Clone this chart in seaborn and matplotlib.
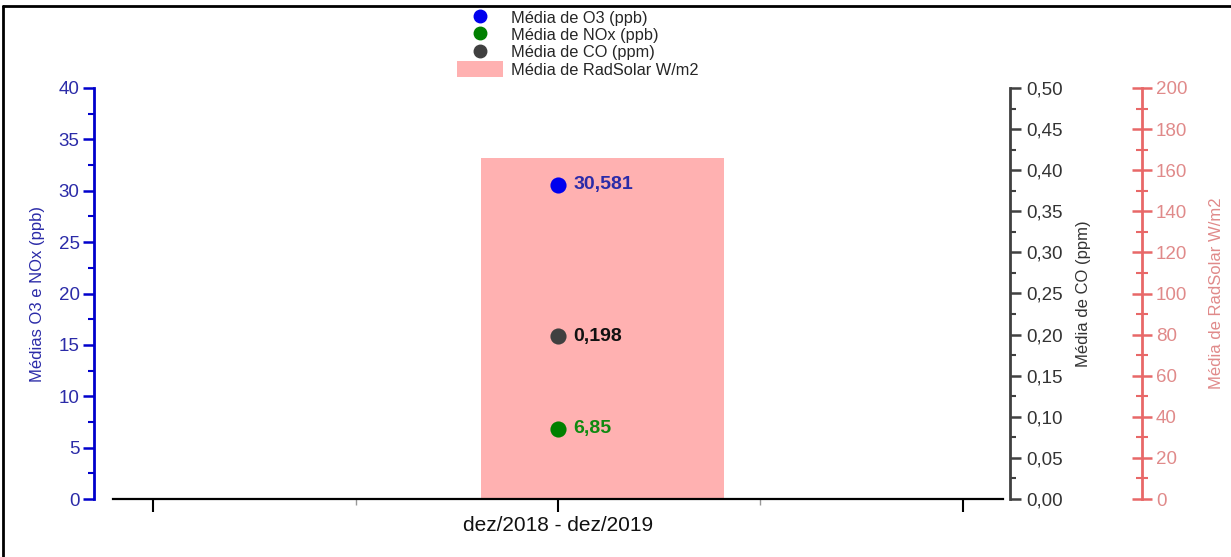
import numpy as np
import matplotlib
matplotlib.use("Agg")
import matplotlib.pyplot as plt
from matplotlib.ticker import MultipleLocator, FuncFormatter
from matplotlib.lines import Line2D
from matplotlib.patches import Patch
import seaborn as sns

# ---- data ----
categories = ["dez/2018 - dez/2019"]
o3_mean = [30.581]
nox_mean = [6.85]
co_mean = [0.198]
radsolar_mean = [166.0]
o3_labels = ["30,581"]
nox_labels = ["6,85"]
co_labels = ["0,198"]

sns.set_theme(style="ticks")
plt.rcParams["font.family"] = ["Liberation Sans", "DejaVu Sans"]

BLUE = "#0000ee"
BLUE_TXT = "#2b2ba8"
GREEN = "#108a10"
GRAY = "#404040"
PINK_BAR = "#ffb1b1"
PINK_AX = "#e86868"
PINK_TXT = "#e08a8a"

fig = plt.figure(figsize=(12.31, 5.57), dpi=100)
ax = fig.add_axes([113 / 1231, 58 / 557, 890 / 1231, 411 / 557])
ax_rad = ax.twinx()
ax_co = ax.twinx()

ax_rad.set_zorder(0)
ax.set_zorder(2)
ax_co.set_zorder(3)
ax.patch.set_visible(False)
ax_co.patch.set_visible(False)

xpos = np.arange(len(categories)) + 1
bar_offset = 0.11

# bar (RadSolar)
ax_rad.bar(xpos + bar_offset, radsolar_mean, width=0.6, color=PINK_BAR, edgecolor="none")

# points
sns.scatterplot(x=xpos, y=o3_mean, ax=ax, color=BLUE, s=135, edgecolor=BLUE, linewidth=0, legend=False, zorder=5)
sns.scatterplot(x=xpos, y=nox_mean, ax=ax, color="#008000", s=135, edgecolor="#008000", linewidth=0, legend=False, zorder=5)
sns.scatterplot(x=xpos, y=co_mean, ax=ax_co, color=GRAY, s=135, edgecolor=GRAY, linewidth=0, legend=False, zorder=5)

lab_kw = dict(xytext=(11, 0), textcoords="offset points", va="center", ha="left", fontsize=14, fontweight="bold")
for xi, v, t in zip(xpos, o3_mean, o3_labels):
    ax.annotate(t, (xi, v), color=BLUE_TXT, **lab_kw)
for xi, v, t in zip(xpos, nox_mean, nox_labels):
    ax.annotate(t, (xi, v), color=GREEN, **lab_kw)
for xi, v, t in zip(xpos, co_mean, co_labels):
    ax_co.annotate(t, (xi, v), color="#111111", **lab_kw)

# x axis
ax.set_xlim(-0.1, 2.1)
ax.set_xticks([0, 1, 2])
ax.set_xticklabels(["", categories[0], ""], fontsize=15, color="#111111")
ax.set_xticks([0.5, 1.5], minor=True)
ax.tick_params(axis="x", which="major", direction="out", length=9, width=1.5, color="black", pad=3)
ax.tick_params(axis="x", which="minor", direction="out", length=4, width=1, color="#999999")

# left axis
ax.set_ylim(0, 40)
ax.yaxis.set_major_locator(MultipleLocator(5))
ax.yaxis.set_minor_locator(MultipleLocator(2.5))
ax.tick_params(axis="y", which="major", direction="out", length=8, width=1.8, color="#0000cc",
               labelcolor=BLUE_TXT, labelsize=13.5, pad=2)
ax.tick_params(axis="y", which="minor", direction="out", length=4, width=1.5, color="#0000cc")
ax.set_ylabel("Médias O3 e NOx (ppb)", color=BLUE_TXT, fontsize=12, labelpad=10)
ax.spines["left"].set_position(("outward", 14))
ax.spines["left"].set_color("#0000cc")
ax.spines["left"].set_linewidth(2)
ax.spines["bottom"].set_color("black")
ax.spines["bottom"].set_linewidth(1.6)
for s in ["top", "right"]:
    ax.spines[s].set_visible(False)

# CO axis
ax_co.set_ylim(0, 0.5)
ax_co.yaxis.set_major_locator(MultipleLocator(0.05))
ax_co.yaxis.set_minor_locator(MultipleLocator(0.025))
ax_co.yaxis.set_major_formatter(FuncFormatter(lambda v, p: f"{v:.2f}".replace(".", ",")))
ax_co.tick_params(axis="y", which="major", direction="out", length=8, width=1.8, color=GRAY,
                  labelcolor="#333333", labelsize=13.5, pad=4)
ax_co.tick_params(axis="y", which="minor", direction="out", length=4, width=1.5, color=GRAY)
ax_co.set_ylabel("Média de CO (ppm)", color="#333333", fontsize=12, labelpad=9)
ax_co.spines["right"].set_position(("outward", 5))
ax_co.spines["right"].set_color(GRAY)
ax_co.spines["right"].set_linewidth(2)
for s in ["top", "left", "bottom"]:
    ax_co.spines[s].set_visible(False)

# RadSolar axis
ax_rad.set_ylim(0, 200)
ax_rad.yaxis.set_major_locator(MultipleLocator(20))
ax_rad.yaxis.set_minor_locator(MultipleLocator(10))
ax_rad.tick_params(axis="y", which="major", direction="inout", length=14, width=1.8, color=PINK_AX,
                   labelcolor=PINK_TXT, labelsize=13.5, pad=3)
ax_rad.tick_params(axis="y", which="minor", direction="inout", length=8, width=1.5, color=PINK_AX)
ax_rad.set_ylabel("Média de RadSolar W/m2", color=PINK_TXT, fontsize=12, labelpad=16)
ax_rad.spines["right"].set_position(("outward", 100))
ax_rad.spines["right"].set_color(PINK_AX)
ax_rad.spines["right"].set_linewidth(2)
for s in ["top", "left", "bottom"]:
    ax_rad.spines[s].set_visible(False)
ax_rad.grid(False); ax.grid(False); ax_co.grid(False)

# legend
handles = [
    Line2D([], [], marker="o", linestyle="none", color=BLUE, markersize=9),
    Line2D([], [], marker="o", linestyle="none", color="#008000", markersize=9),
    Line2D([], [], marker="o", linestyle="none", color=GRAY, markersize=9),
    Patch(facecolor=PINK_BAR, edgecolor="none"),
]
labels = ["Média de O3 (ppb)", "Média de NOx (ppb)", "Média de CO (ppm)", "Média de RadSolar W/m2"]
fig.legend(handles, labels, loc="upper left", bbox_to_anchor=(446 / 1231, 1 + 2 / 557),
           frameon=False, fontsize=11.8, handlelength=2.8, handleheight=1.1, labelspacing=0.05,
           handletextpad=0.45, borderpad=0.2)

# figure frame (top and left)
fig.add_artist(Line2D([3 / 1231, 3 / 1231], [0, 1 - 6 / 557], transform=fig.transFigure, color="black", lw=2))
fig.add_artist(Line2D([3 / 1231, 1], [1 - 6 / 557, 1 - 6 / 557], transform=fig.transFigure, color="black", lw=2))

fig.savefig("out.png", dpi=100)
